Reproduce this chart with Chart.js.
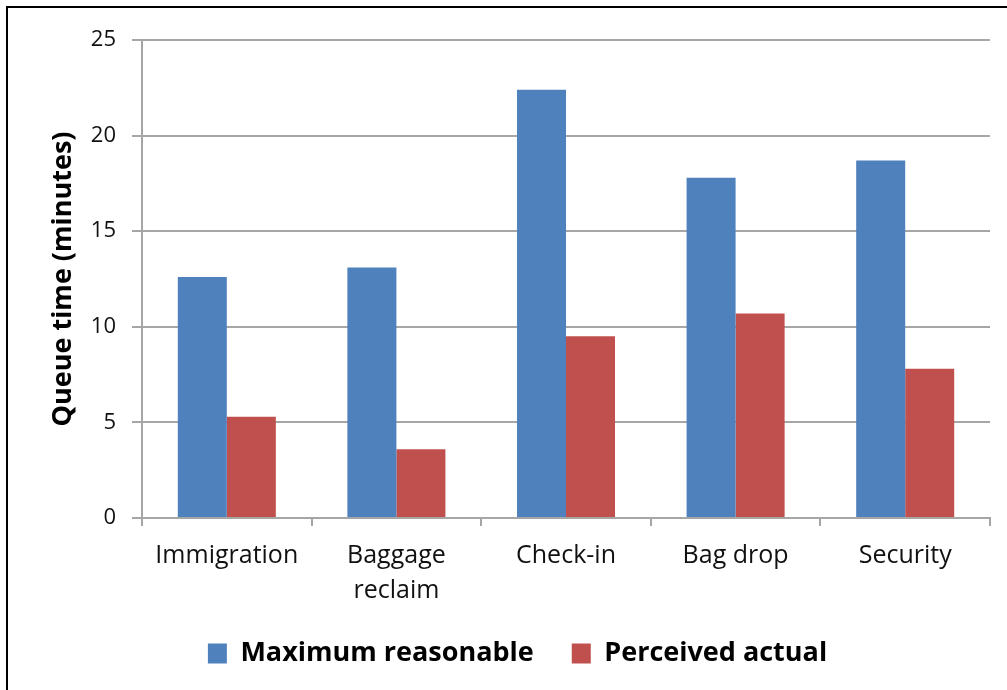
<!DOCTYPE html>
<html>
<head>
<meta charset="utf-8">
<script src="https://cdn.jsdelivr.net/npm/chart.js@4"></script>
<style>
  html, body { margin: 0; padding: 0; background: #fff; }
  #wrap { position: relative; width: 1007px; height: 690px; overflow: hidden; }
  #frame { position: absolute; left: 6px; top: 6px; width: 1100px; height: 800px;
           border-top: 2px solid #000; border-left: 2px solid #000; box-sizing: border-box; }
  #c { position: absolute; left: 0; top: 0; }
</style>
</head>
<body>
<div id="wrap">
  <div id="frame"></div>
  <canvas id="c" width="1007" height="690"></canvas>
</div>
<script>
// Queue areas at the airport
const categories = ['Immigration', ['Baggage', 'reclaim'], 'Check-in', 'Bag drop', 'Security'];
// Queue times in minutes
const maximumReasonable = [12.6, 13.1, 22.4, 17.8, 18.7];
const perceivedActual = [5.3, 3.6, 9.5, 10.7, 7.8];
const yTicks = [0, 5, 10, 15, 20, 25];

const gridColor = '#a6a6a6';
const fontFamily = '"Open Sans", "DejaVu Sans", sans-serif';

new Chart(document.getElementById('c'), {
  type: 'bar',
  data: {
    labels: categories,
    datasets: [
      { label: 'Maximum reasonable', data: maximumReasonable, backgroundColor: '#4F81BD' },
      { label: 'Perceived actual', data: perceivedActual, backgroundColor: '#C0504D' }
    ]
  },
  options: {
    responsive: false,
    animation: false,
    devicePixelRatio: 1,
    layout: { padding: { left: 45, top: 40, right: 17, bottom: 13 } },
    datasets: { bar: { categoryPercentage: 0.578, barPercentage: 1.0 } },
    plugins: {
      tooltip: { enabled: false },
      legend: {
        position: 'bottom',
        labels: {
          boxWidth: 19,
          boxHeight: 20,
          padding: 38,
          color: '#000',
          font: { family: fontFamily, size: 27, weight: 'bold' }
        }
      }
    },
    scales: {
      x: {
        offset: true,
        grid: { display: true, drawOnChartArea: false, drawTicks: true, tickLength: 8, color: gridColor, lineWidth: 2, offset: true },
        border: { display: true, color: gridColor, width: 2 },
        ticks: { color: '#111', padding: 12, maxRotation: 0, autoSkip: false,
                 font: { family: fontFamily, size: 25, lineHeight: 1.42 } },
        afterFit: (s) => { s.height = 84; }
      },
      y: {
        min: 0,
        max: 25,
        afterBuildTicks: (s) => { s.ticks = yTicks.map(v => ({ value: v })); },
        grid: { color: gridColor, lineWidth: 2, tickLength: 10 },
        border: { display: true, color: gridColor, width: 2 },
        ticks: { color: '#111', padding: 16, font: { family: fontFamily, size: 22 } },
        title: {
          display: true,
          text: 'Queue time (minutes)',
          color: '#000',
          padding: { top: 2, bottom: 4 },
          font: { family: fontFamily, size: 27, weight: 'bold' }
        },
        afterFit: (s) => { s.width = 97; }
      }
    }
  }
});
</script>
</body>
</html>
